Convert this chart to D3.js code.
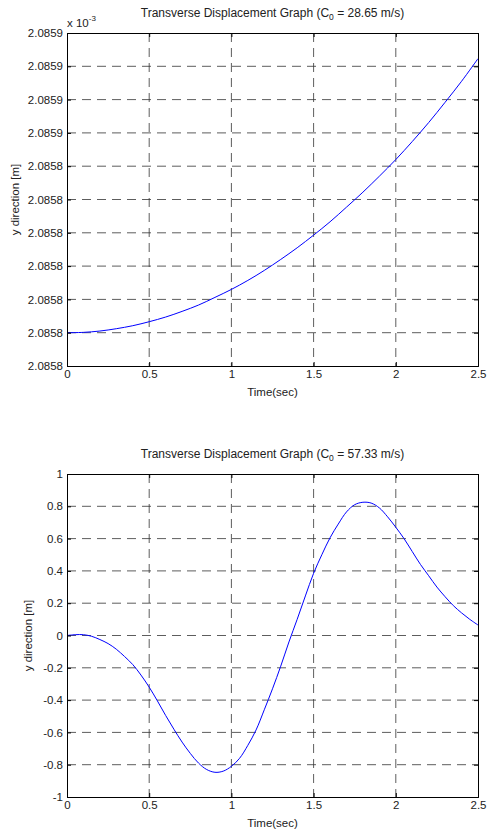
<!DOCTYPE html>
<html>
<head>
<meta charset="utf-8">
<script src="https://cdn.jsdelivr.net/npm/d3@7"></script>
<style>
  body { margin: 0; background: #fff; }
  svg { display: block; font-family: "Liberation Sans", Arial, sans-serif; }
</style>
</head>
<body>
<div id="chart"></div>
<script>
// time samples (sec)
const timeTop = [0, 0.1, 0.2, 0.3, 0.4, 0.5, 0.6, 0.7, 0.8, 0.9, 1.0, 1.1, 1.2,
  1.3, 1.4, 1.5, 1.6, 1.7, 1.8, 1.9, 2.0, 2.1, 2.2, 2.3, 2.4, 2.5]
// y displacement, x 10^-3 m (C0 = 28.65 m/s)
const dispTop = [2.0857950, 2.0857951, 2.0857955, 2.0857962, 2.0857971, 2.0857983,
  2.0857997, 2.0858014, 2.0858033, 2.0858056, 2.0858080, 2.0858107, 2.0858137,
  2.0858170, 2.0858205, 2.0858243, 2.0858283, 2.0858327, 2.0858372, 2.0858420,
  2.0858470, 2.0858524, 2.0858581, 2.0858642, 2.0858705, 2.0858773]

const timeBottom = [0, 0.05, 0.1, 0.15, 0.2, 0.25, 0.3, 0.35, 0.4, 0.45, 0.5, 0.55,
  0.6, 0.65, 0.7, 0.75, 0.8, 0.85, 0.9, 0.95, 1.0, 1.05, 1.1, 1.15, 1.2, 1.25, 1.3,
  1.35, 1.4, 1.45, 1.5, 1.55, 1.6, 1.65, 1.7, 1.75, 1.8, 1.85, 1.9, 1.95, 2.0, 2.05,
  2.1, 2.15, 2.2, 2.25, 2.3, 2.35, 2.4, 2.45, 2.5]
// y displacement, m (C0 = 57.33 m/s)
const dispBottom = [0, 0.005, 0.005, -0.005, -0.025, -0.05, -0.085, -0.13, -0.18, -0.245,
  -0.32, -0.405, -0.495, -0.58, -0.66, -0.73, -0.79, -0.83, -0.847, -0.84, -0.81,
  -0.76, -0.68, -0.585, -0.46, -0.33, -0.19, -0.04, 0.10, 0.245, 0.385, 0.50, 0.605,
  0.69, 0.765, 0.81, 0.825, 0.82, 0.79, 0.735, 0.67, 0.60, 0.52, 0.44, 0.37, 0.30,
  0.24, 0.185, 0.14, 0.10, 0.065]

const xTicks = [0, 0.5, 1, 1.5, 2, 2.5]
const topYTicks = [2.085785, 2.085795, 2.085805, 2.085815, 2.085825, 2.085835,
  2.085845, 2.085855, 2.085865, 2.085875, 2.085885]
const topYTickLabels = ['2.0858', '2.0858', '2.0858', '2.0858', '2.0858', '2.0858',
  '2.0858', '2.0859', '2.0859', '2.0859', '2.0859']
const bottomYTicks = [-1, -0.8, -0.6, -0.4, -0.2, 0, 0.2, 0.4, 0.6, 0.8, 1]
const bottomYTickLabels = ['-1', '-0.8', '-0.6', '-0.4', '-0.2', '0', '0.2', '0.4', '0.6', '0.8', '1']

const width = 487
const height = 830
const fontSize = 11.5

const svg = d3.select('#chart').append('svg')
  .attr('width', width)
  .attr('height', height)

function drawPanel(o) {
  const x = d3.scaleLinear().domain([0, 2.5]).range([o.left, o.right])
  const y = d3.scaleLinear().domain(d3.extent(o.yTicks)).range([o.bottom, o.top])
  const g = svg.append('g')

  // dashed grid
  g.append('g')
    .selectAll('line')
    .data(xTicks.slice(1, -1))
    .join('line')
    .attr('x1', d => x(d)).attr('x2', d => x(d))
    .attr('y1', o.top).attr('y2', o.bottom)
  g.append('g')
    .selectAll('line')
    .data(o.yTicks.slice(1, -1))
    .join('line')
    .attr('y1', d => y(d)).attr('y2', d => y(d))
    .attr('x1', o.left).attr('x2', o.right)
  g.selectAll('g line')
    .attr('stroke', '#333')
    .attr('stroke-width', 0.8)
    .attr('stroke-dasharray', '9,6')

  // curve
  const line = d3.line()
    .curve(d3.curveCatmullRom)
    .x(d => x(d[0]))
    .y(d => y(d[1]))
  g.append('path')
    .attr('fill', 'none')
    .attr('stroke', '#0000ff')
    .attr('stroke-width', 1)
    .attr('d', line(d3.zip(o.time, o.disp)))

  // axes with inward ticks (matlab style)
  g.append('g')
    .attr('transform', `translate(0,${o.bottom})`)
    .call(d3.axisBottom(x).tickValues(xTicks).tickSize(-4).tickPadding(4)
      .tickFormat(d3.format('')))
  g.append('g')
    .attr('transform', `translate(0,${o.top})`)
    .call(d3.axisTop(x).tickValues(xTicks).tickSize(-4).tickFormat(''))
  g.append('g')
    .attr('transform', `translate(${o.left},0)`)
    .call(d3.axisLeft(y).tickValues(o.yTicks).tickSize(-4).tickPadding(4)
      .tickFormat((d, i) => o.yLabels[i]))
  g.append('g')
    .attr('transform', `translate(${o.right},0)`)
    .call(d3.axisRight(y).tickValues(o.yTicks).tickSize(-4).tickFormat(''))
  g.selectAll('.domain').attr('stroke', '#000').attr('stroke-width', 1)
  g.selectAll('.tick line').attr('stroke', '#000')
  g.selectAll('.tick text')
    .attr('font-family', '"Liberation Sans", Arial, sans-serif')
    .attr('font-size', fontSize)
    .attr('fill', '#222')

  // title
  const title = g.append('text')
    .attr('x', (o.left + o.right) / 2)
    .attr('y', o.top - 16)
    .attr('text-anchor', 'middle')
    .attr('font-size', 12)
    .attr('fill', '#222')
  title.append('tspan').text('Transverse Displacement Graph (C')
  title.append('tspan').attr('font-size', 8.5).attr('dy', 3).text('0')
  title.append('tspan').attr('dy', -3).text(` = ${o.c0} m/s)`)

  g.append('text')
    .attr('x', (o.left + o.right) / 2)
    .attr('y', o.bottom + 30)
    .attr('text-anchor', 'middle')
    .attr('font-size', fontSize)
    .attr('fill', '#222')
    .text('Time(sec)')

  g.append('text')
    .attr('transform', `translate(${o.yLabelX},${(o.top + o.bottom) / 2}) rotate(-90)`)
    .attr('text-anchor', 'middle')
    .attr('font-size', fontSize)
    .attr('fill', '#222')
    .text('y direction [m]')

  if (o.exponent) {
    const ex = g.append('text')
      .attr('x', o.left)
      .attr('y', o.top - 6)
      .attr('font-size', fontSize)
      .attr('fill', '#222')
    ex.append('tspan').text('x 10')
    ex.append('tspan').attr('font-size', 8).attr('dy', -6).text(o.exponent)
  }
}

drawPanel({
  left: 67, right: 478, top: 33, bottom: 366,
  time: timeTop, disp: dispTop,
  yTicks: topYTicks, yLabels: topYTickLabels,
  c0: '28.65', exponent: '-3', yLabelX: 19
})

drawPanel({
  left: 67, right: 478, top: 474, bottom: 797,
  time: timeBottom, disp: dispBottom,
  yTicks: bottomYTicks, yLabels: bottomYTickLabels,
  c0: '57.33', yLabelX: 32
})
</script>
</body>
</html>
